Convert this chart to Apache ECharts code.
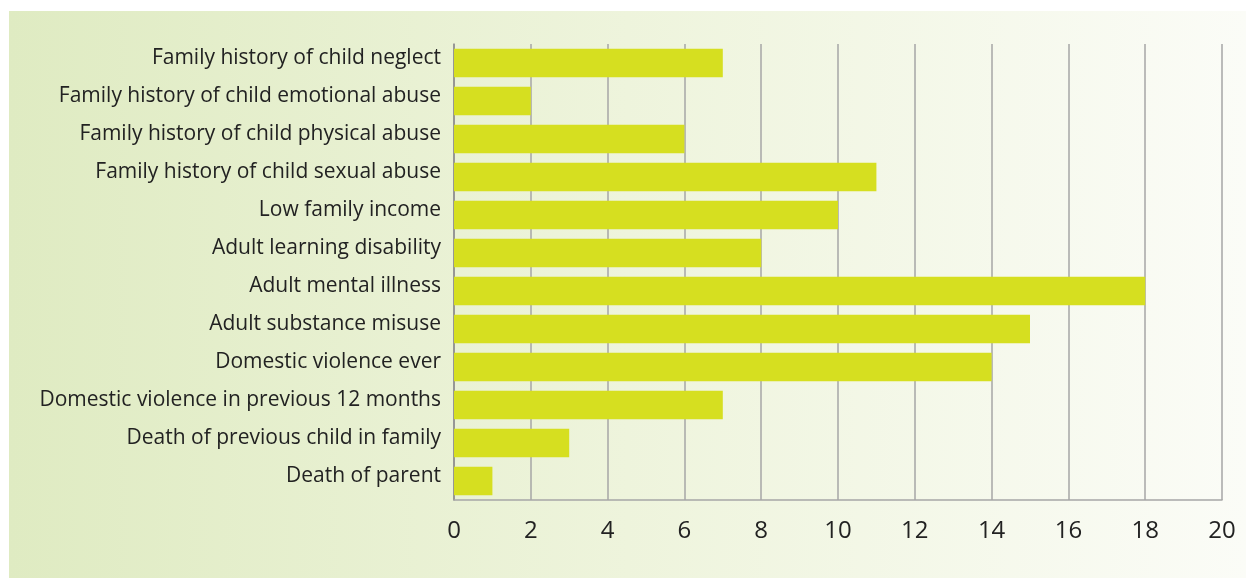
<!DOCTYPE html>
<html>
<head>
<meta charset="utf-8">
<script src="https://cdn.jsdelivr.net/npm/echarts@6/dist/echarts.min.js"></script>
<style>
  html, body { margin: 0; padding: 0; background: #ffffff; }
  #chart { width: 1246px; height: 579px; }
</style>
</head>
<body>
<div id="chart"></div>
<script>
// Risk factors, listed top to bottom
const categories = [
  'Family history of child neglect',
  'Family history of child emotional abuse',
  'Family history of child physical abuse',
  'Family history of child sexual abuse',
  'Low family income',
  'Adult learning disability',
  'Adult mental illness',
  'Adult substance misuse',
  'Domestic violence ever',
  'Domestic violence in previous 12 months',
  'Death of previous child in family',
  'Death of parent'
];
const counts = [7, 2, 6, 11, 10, 8, 18, 15, 14, 7, 3, 1];
const xTicks = [0, 2, 4, 6, 8, 10, 12, 14, 16, 18, 20];

const chart = echarts.init(document.getElementById('chart'), null, { renderer: 'canvas' });

chart.setOption({
  animation: false,
  graphic: [{
    type: 'rect',
    z: -10,
    silent: true,
    shape: { x: 9, y: 11, width: 1237, height: 567 },
    style: {
      fill: new echarts.graphic.LinearGradient(0, 0, 1, 0, [
        { offset: 0, color: '#dfebc2' },
        { offset: 0.5, color: '#eef4dc' },
        { offset: 1, color: '#fbfcf7' }
      ])
    }
  }],
  grid: { left: 454, right: 24, top: 44, bottom: 79, containLabel: false },
  xAxis: {
    type: 'value',
    min: xTicks[0],
    max: xTicks[xTicks.length - 1],
    interval: 2,
    axisLine: { show: true, lineStyle: { color: '#a6a6a6', width: 1.5 } },
    axisTick: { show: false },
    axisLabel: {
      color: '#222222',
      fontFamily: 'Open Sans',
      fontSize: 24,
      margin: 19
    },
    splitLine: { show: true, lineStyle: { color: '#a6a6a6', width: 1.5 } }
  },
  yAxis: {
    type: 'category',
    inverse: true,
    data: categories,
    axisLine: { show: true, lineStyle: { color: '#8c8c8c', width: 1.5 } },
    axisTick: { show: false },
    axisLabel: {
      color: '#222222',
      fontFamily: 'Open Sans',
      fontSize: 21,
      margin: 13,
      verticalAlign: 'bottom',
      lineHeight: 9
    }
  },
  series: [{
    type: 'bar',
    data: counts,
    barCategoryGap: '25%',
    itemStyle: { color: '#d6df20' }
  }]
});
</script>
</body>
</html>
